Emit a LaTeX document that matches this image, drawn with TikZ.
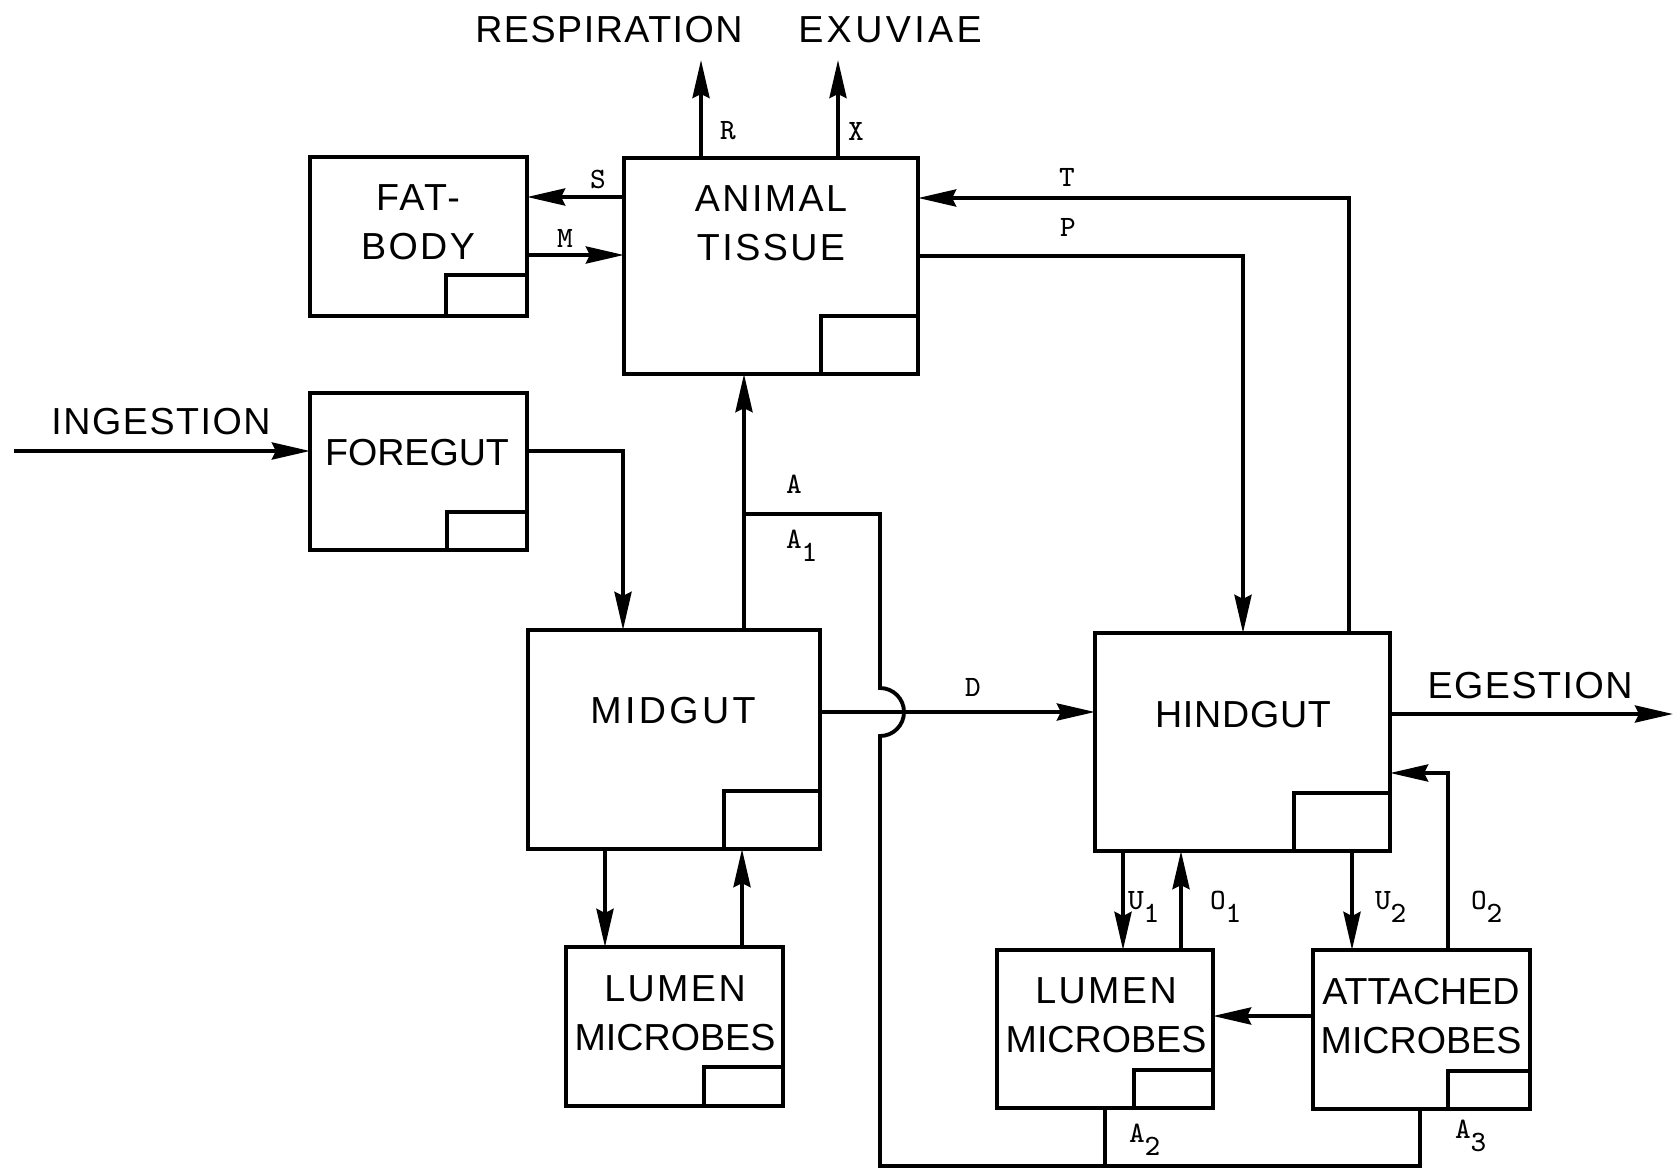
\documentclass[tikz,border=0pt]{standalone}
\usepackage{fontspec}
\usetikzlibrary{arrows.meta}
\newfontfamily\fA{Liberation Sans}
\newfontfamily\fB[LetterSpace=2]{Liberation Sans}
\newfontfamily\fC[LetterSpace=4]{Liberation Sans}
\newfontfamily\fD[LetterSpace=6.5]{Liberation Sans}
\newfontfamily\fE[LetterSpace=9]{Liberation Sans}
\newcommand{\sbx}[1]{\raisebox{-0.13cm}{#1}}
\begin{document}
\begin{tikzpicture}[x=0.01cm,y=-0.01cm,
  every node/.style={outer sep=0pt},
  box/.style={draw, line width=1.1pt, inner sep=0pt, outer sep=0pt},
  cornerbox/.style={draw, line width=1.1pt, inner sep=0pt, outer sep=0pt, anchor=south east},
  lab/.style={font=\fontsize{10.7}{13.8}\selectfont, align=center, inner sep=0pt},
  flow/.style={font=\ttfamily\fontsize{8.4}{10}\selectfont, inner sep=0pt},
  conn/.style={line width=1.1pt},
  arr/.style={conn, -{Stealth[length=0.38cm, width=0.17cm, inset=0.04cm]}}
]
\useasboundingbox (0,0) rectangle (1675,1170);

% ---------- boxes ----------
\node[box, minimum width=2.17cm, minimum height=1.59cm] (fat) at (418.5,236.5) {};
\node[cornerbox, minimum width=0.81cm, minimum height=0.41cm] (fatC) at (fat.south east) {};
\node[box, minimum width=2.94cm, minimum height=2.16cm] (animal) at (771,266) {};
\node[cornerbox, minimum width=0.97cm, minimum height=0.58cm] (animalC) at (animal.south east) {};
\node[box, minimum width=2.17cm, minimum height=1.57cm] (fore) at (418.5,471.5) {};
\node[cornerbox, minimum width=0.80cm, minimum height=0.38cm] (foreC) at (fore.south east) {};
\node[box, minimum width=2.92cm, minimum height=2.19cm] (mid) at (674,739.5) {};
\node[cornerbox, minimum width=0.96cm, minimum height=0.58cm] (midC) at (mid.south east) {};
\node[box, minimum width=2.95cm, minimum height=2.18cm] (hind) at (1242.5,742) {};
\node[cornerbox, minimum width=0.96cm, minimum height=0.58cm] (hindC) at (hind.south east) {};
\node[box, minimum width=2.17cm, minimum height=1.59cm] (ml) at (674.5,1026.5) {};
\node[cornerbox, minimum width=0.79cm, minimum height=0.39cm] (mlC) at (ml.south east) {};
\node[box, minimum width=2.16cm, minimum height=1.58cm] (hl) at (1105,1029) {};
\node[cornerbox, minimum width=0.79cm, minimum height=0.38cm] (hlC) at (hl.south east) {};
\node[box, minimum width=2.17cm, minimum height=1.59cm] (at) at (1421.5,1029.5) {};
\node[cornerbox, minimum width=0.82cm, minimum height=0.38cm] (atC) at (at.south east) {};

% ---------- box texts ----------
\node[lab] (tFat) at (418,222) {{\fD FAT-}\\{\fD BODY}};
\node[lab] (tAni) at (771,223) {{\fD ANIMAL}\\{\fD TISSUE}};
\node[lab] (tFore) at (417,453) {\fA FOREGUT};
\node[lab] (tMid) at (673,711) {\fE MIDGUT};
\node[lab] (tHind) at (1243,715) {\fB HINDGUT};
\node[lab] (tML) at (675,1013) {{\fD LUMEN}\\{\fA MICROBES}};
\node[lab] (tHL) at (1106,1015) {{\fD LUMEN}\\{\fA MICROBES}};
\node[lab] (tAT) at (1421,1016) {{\fA ATTACHED}\\{\fA MICROBES}};

% ---------- outside texts ----------
\node[lab] (tResp) at (609,30) {\fC RESPIRATION};
\node[lab] (tExu) at (890,30) {\fE EXUVIAE};
\node[lab] (tIng) at (161,422) {\fC INGESTION};
\node[lab] (tEge) at (1530,686) {\fC EGESTION};

% ---------- free ends ----------
\coordinate (rEnd) at (701,60);
\coordinate (xEnd) at (838,60);
\coordinate (ingS) at (14,451);
\coordinate (egE) at (1673,714);
\coordinate (aJ) at (744,514);
\coordinate (botL) at (880,1166);

% ---------- connectors ----------
\draw[arr] (animal.north -| rEnd) -- (rEnd);
\draw[arr] (animal.north -| xEnd) -- (xEnd);
\draw[arr] (animal.west |- 0,197) -- (fat.east |- 0,197);
\draw[arr] (fat.east |- 0,255) -- (animal.west |- 0,255);
\draw[arr] (hind.north -| 1349,0) |- (animal.east |- 0,198);
\draw[arr] (animal.east |- 0,256) -| (hind.north -| 1243,0);
\draw[arr] (ingS) -- (fore.west |- ingS);
\draw[arr] (fore.east |- 0,451) -| (mid.north -| 623,0);
\draw[arr] (mid.north -| aJ) -- (animal.south -| aJ);
\draw[conn] (aJ) -| (880,688) arc[start angle=90, end angle=-90, radius=0.24cm] -- (botL) -| (at.south -| 1420,0);
\draw[conn] (hl.south -| 1105,0) -- (1105,0 |- botL);
\draw[arr] (mid.east |- 0,712) -- (hind.west |- 0,712);
\draw[arr] (hind.east |- egE) -- (egE);
\draw[arr] (mid.south -| 605,0) -- (ml.north -| 605,0);
\draw[arr] (ml.north -| 742,0) -- (mid.south -| 742,0);
\draw[arr] (hind.south -| 1123,0) -- (hl.north -| 1123,0);
\draw[arr] (hl.north -| 1181,0) -- (hind.south -| 1181,0);
\draw[arr] (hind.south -| 1352,0) -- (at.north -| 1352,0);
\draw[arr] (at.north -| 1448,0) |- (hind.east |- 0,773);
\draw[arr] (at.west |- 0,1016) -- (hl.east |- 0,1016);

% ---------- flow labels ----------
\node[flow] (lR) at (728,131) {R};
\node[flow] (lX) at (856,131) {X};
\node[flow] (lS) at (598,179) {S};
\node[flow] (lM) at (565,238) {M};
\node[flow] (lT) at (1067,177) {T};
\node[flow] (lP) at (1068,227) {P};
\node[flow] (lD) at (973,687) {D};
\node[flow, anchor=base west] (lA) at (786,493) {A};
\node[flow, anchor=base west] (lA1) at (786,548) {A\sbx{1}};
\node[flow, anchor=base west] (lU1) at (1128,909) {U\sbx{1}};
\node[flow, anchor=base west] (lO1) at (1210,909) {O\sbx{1}};
\node[flow, anchor=base west] (lU2) at (1375,909) {U\sbx{2}};
\node[flow, anchor=base west] (lO2) at (1471,909) {O\sbx{2}};
\node[flow, anchor=base west] (lA2) at (1129,1142) {A\sbx{2}};
\node[flow, anchor=base west] (lA3) at (1455,1138) {A\sbx{3}};
\end{tikzpicture}
\end{document}
